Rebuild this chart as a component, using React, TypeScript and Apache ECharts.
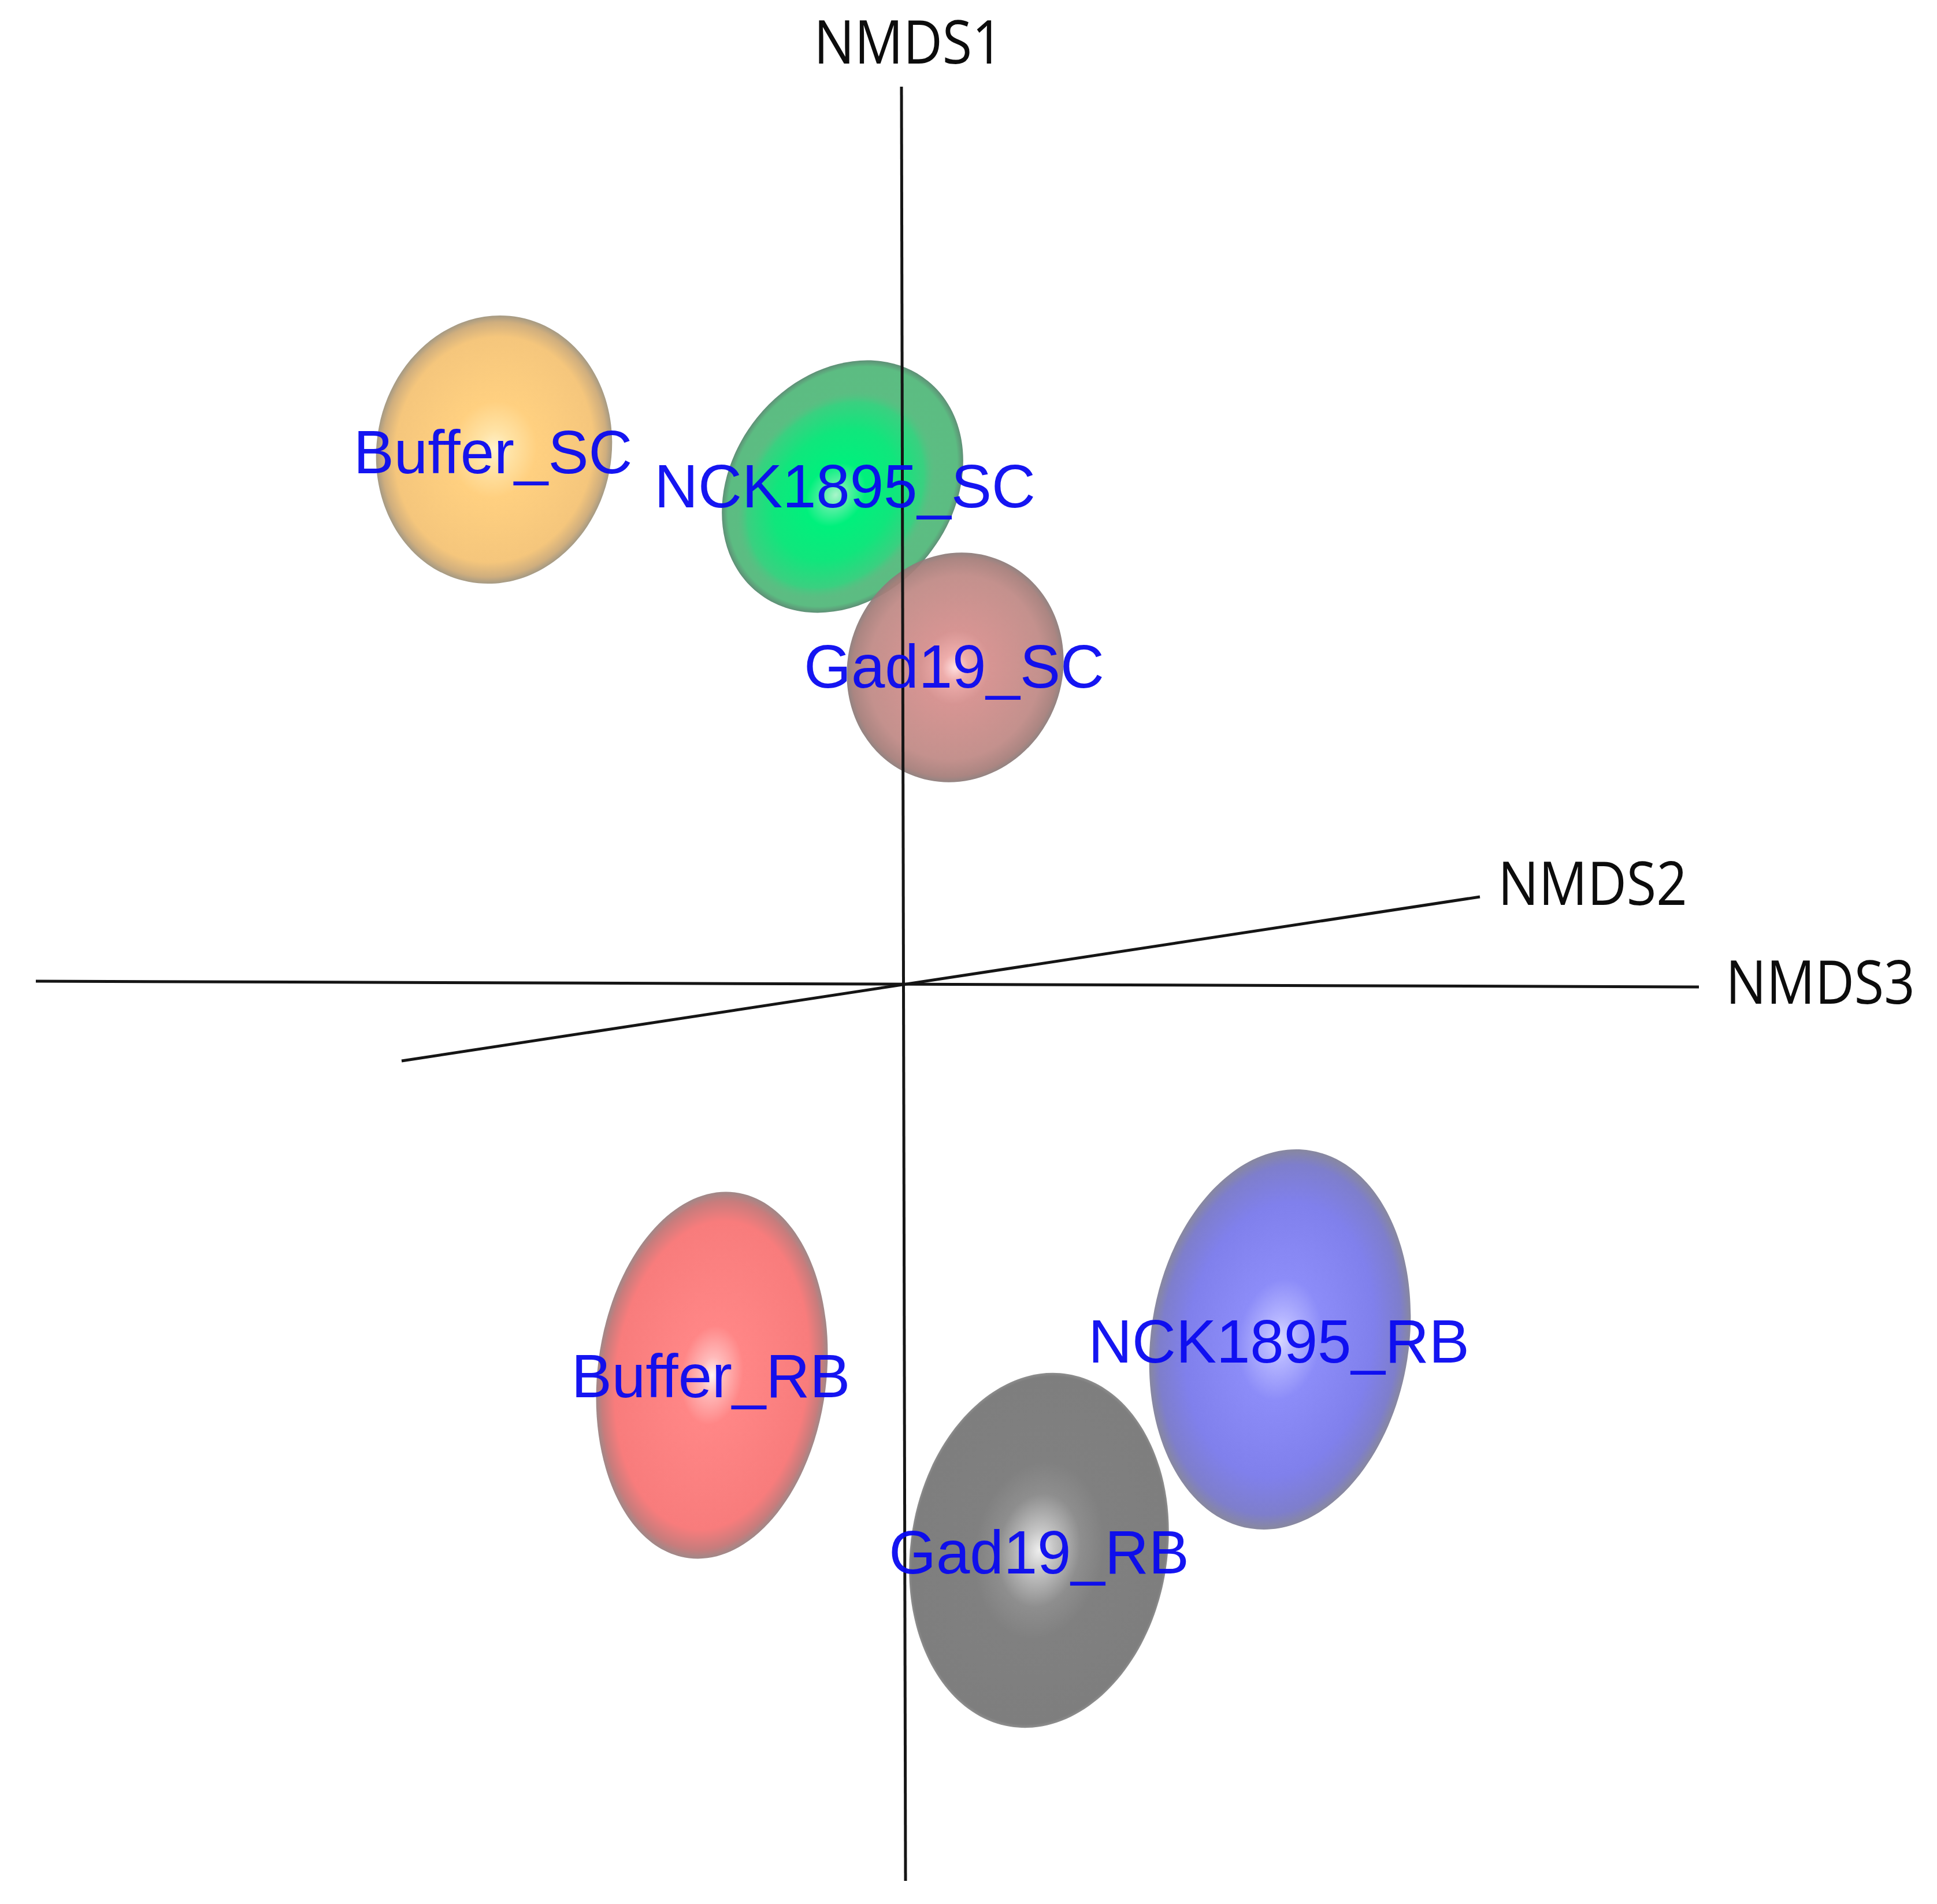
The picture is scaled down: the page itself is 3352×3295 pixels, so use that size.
import React, { useEffect, useRef } from "react";
import * as echarts from "echarts";

const groups = ["Buffer_SC", "NCK1895_SC", "Gad19_SC", "Buffer_RB", "NCK1895_RB", "Gad19_RB"];
const centerX = [-0.708, -0.105, 0.09, -0.331, 0.652, 0.235];
const centerY = [0.926, 0.862, 0.549, -0.676, -0.614, -0.979];
const majorRadius = [0.233, 0.235, 0.201, 0.319, 0.331, 0.309];
const minorRadius = [0.203, 0.19, 0.185, 0.198, 0.223, 0.222];
const tiltDegrees = [11, 38.8, 23, 7.2, 9, 9.3];
const labelX = [-0.71, -0.101, 0.088, -0.333, 0.65, 0.235];
const labelY = [0.922, 0.863, 0.551, -0.677, -0.617, -0.982];

const axisNames = ["NMDS1", "NMDS2", "NMDS3"];
const axisStart = [[-0.003, 1.554], [-0.868, -0.132], [-1.501, 0.006]];
const axisEnd = [[0.004, -1.551], [0.998, 0.152], [1.377, -0.004]];
const axisLabelX = [0.009, 1.193, 1.587];
const axisLabelY = [1.634, 0.178, 0.007];

const shading: [number, string][][] = [
  [[0, "#FFF2CE"], [0.14, "#FFE3A6"], [0.36, "#FFD080"], [0.84, "#F5C67C"], [0.95, "#CFAE7E"], [1, "#A59A84"]],
  [[0, "#5CC084"], [0.95, "#5CBC82"], [1, "#5F8F76"]],
  [[0, "#FFDEDE"], [0.12, "#EDA8A6"], [0.32, "#D48E8C"], [0.8, "#C08A86"], [0.95, "#A67E7A"], [1, "#8C7C7A"]],
  [[0, "#FFF2F2"], [0.1, "#FFBABA"], [0.27, "#FF8686"], [0.84, "#F87C7C"], [0.95, "#C87C7C"], [1, "#A08888"]],
  [[0, "#D8D8FF"], [0.12, "#B4B4FF"], [0.32, "#8C8CF8"], [0.72, "#8080EC"], [0.92, "#7E7ECC"], [1, "#88889F"]],
  [[0, "#EEEEEE"], [0.12, "#C4C4C4"], [0.32, "#8E8E8E"], [0.5, "#808080"], [0.98, "#7E7E7E"], [1, "#8E8E8E"]],
];
const greenCore: [number, string][] = [
  [0, "#A8F5CA"], [0.14, "#50F0A0"], [0.3, "#00F07C"], [0.62, "#10E67C"], [0.88, "#3AD080"], [1, "rgba(92,190,130,0)"],
];

const ellipseData = groups.map((g, i) => ({
  name: g,
  value: [centerX[i], centerY[i], majorRadius[i], minorRadius[i], tiltDegrees[i]],
}));

const grad = (stops: [number, string][]) =>
  new echarts.graphic.RadialGradient(0.5, 0.5, 0.5, stops.map(([offset, color]) => ({ offset, color })));

export default function App() {
  const ref = useRef<HTMLDivElement>(null);
  useEffect(() => {
    document.body.style.margin = "0";
    document.body.style.background = "#fff";
    const chart = echarts.init(ref.current!, undefined, { renderer: "svg" });
    chart.setOption({
      animation: false,
      backgroundColor: "#ffffff",
      grid: { left: 0, right: 0, top: 0, bottom: 0 },
      xAxis: { type: "value", min: -1.563, max: 1.789, show: false },
      yAxis: { type: "value", min: -1.591, max: 1.704, show: false },
      series: [
        {
          type: "custom",
          z: 2,
          clip: false,
          data: ellipseData,
          renderItem: (params: any, api: any) => {
            const c = api.coord([api.value(0), api.value(1)]);
            const s = api.size([api.value(3), api.value(2)]);
            const i = params.dataIndex;
            const children: any[] = [
              {
                type: "ellipse",
                shape: { cx: 0, cy: 0, rx: s[0], ry: s[1] },
                style: { fill: grad(shading[i]), opacity: i === 2 ? 0.94 : 1 },
              },
            ];
            if (i === 1) {
              children.push({
                type: "ellipse",
                shape: { cx: 0, cy: s[1] * 0.08, rx: s[0] * 0.82, ry: s[1] * 0.84 },
                style: { fill: grad(greenCore) },
              });
            }
            return {
              type: "group",
              x: c[0],
              y: c[1],
              rotation: (-api.value(4) * Math.PI) / 180,
              children,
            };
          },
        },
        ...axisNames.map((name, i) => ({
          type: "line",
          name,
          z: 3,
          symbol: "none",
          silent: true,
          clip: false,
          data: [axisStart[i], axisEnd[i]],
          lineStyle: { color: "#151515", width: 5 },
        })),
        {
          type: "scatter",
          z: 4,
          symbolSize: 1,
          itemStyle: { color: "rgba(0,0,0,0)" },
          silent: true,
          data: groups.map((name, i) => ({ name, value: [labelX[i], labelY[i]] })),
          label: {
            show: true,
            position: "inside",
            formatter: "{b}",
            fontFamily: "Liberation Sans",
            fontSize: 105,
            color: "#0808F0",
            opacity: 0.95,
          },
          labelLayout: { hideOverlap: false },
        },
        {
          type: "custom",
          z: 5,
          clip: false,
          silent: true,
          data: axisNames.map((name, i) => ({ name, value: [axisLabelX[i], axisLabelY[i]] })),
          renderItem: (params: any, api: any) => {
            const c = api.coord([api.value(0), api.value(1)]);
            return {
              type: "text",
              x: c[0],
              y: c[1],
              scaleX: 0.9,
              style: {
                text: axisNames[params.dataIndex],
                fontFamily: "Open Sans",
                fontSize: 104,
                fill: "#0c0c0c",
                align: "center",
                verticalAlign: "middle",
              },
            };
          },
        },
      ],
    });
    return () => chart.dispose();
  }, []);
  return <div ref={ref} style={{ width: 3352, height: 3295 }} />;
}
